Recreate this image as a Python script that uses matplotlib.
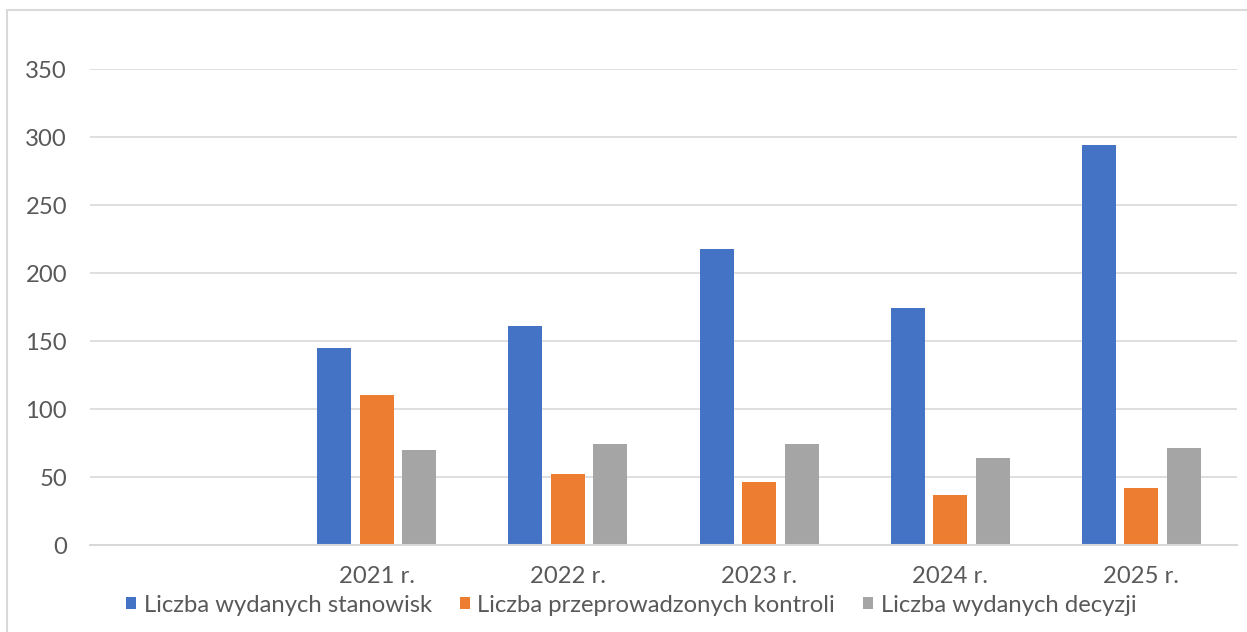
import matplotlib.pyplot as plt
import numpy as np
from matplotlib.patches import Rectangle

# categories (first slot is empty in the original chart)
categories = ["", "2021 r.", "2022 r.", "2023 r.", "2024 r.", "2025 r."]
stanowiska = [0, 145, 161, 218, 174, 294]
kontrole = [0, 110, 52, 46, 37, 42]
decyzje = [0, 70, 74, 74, 64, 71]
series_names = ["Liczba wydanych stanowisk", "Liczba przeprowadzonych kontroli",
                "Liczba wydanych decyzji"]
colors = ["#4472c4", "#ed7d31", "#a5a5a5"]
yticks = [0, 50, 100, 150, 200, 250, 300, 350]

plt.rcParams["font.family"] = ["Lato", "DejaVu Sans"]
fs = 17.2

fig = plt.figure(figsize=(12.47, 6.32), dpi=100)
W, H = 1247, 632
ax = fig.add_axes([90 / W, 1 - 545 / H, (1237 - 90) / W, (545 - 69) / H])

# outer chart border
fig.patches.append(Rectangle((7 / W, -0.05), 1.1, 1 - 10 / H + 0.05,
                             transform=fig.transFigure, fill=False,
                             edgecolor="#d9d9d9", linewidth=1.5))

x = np.arange(len(categories))
bw = 34 / 191
step = 42.5 / 191
bars = []
for i, (vals, name, c) in enumerate(zip([stanowiska, kontrole, decyzje], series_names, colors)):
    xs = x[1:] + (i - 1) * step
    b = ax.bar(xs, vals[1:], width=bw, color=c, label=name, zorder=3)
    bars.append(b)

ax.set_xlim(-0.5, len(categories) - 0.5)
ax.set_ylim(0, 350)
ax.set_yticks(yticks)
ax.set_xticks(x)
ax.set_xticklabels(categories)
ax.yaxis.grid(True, color="#d9d9d9", linewidth=1.2, zorder=0)
ax.set_axisbelow(True)
for s in ["top", "right", "left"]:
    ax.spines[s].set_visible(False)
ax.spines["bottom"].set_color("#d9d9d9")
ax.spines["bottom"].set_linewidth(1.5)
ax.spines["bottom"].set_zorder(4)
ax.tick_params(axis="both", length=0, labelsize=fs, labelcolor="#595959")
ax.tick_params(axis="y", pad=16.5)
ax.tick_params(axis="x", pad=15)

fig.legend(handles=bars, labels=series_names, loc="center left",
           bbox_to_anchor=(126 / W, 1 - 605 / H), ncol=3, frameon=False,
           fontsize=fs, labelcolor="#595959", handlelength=0.42, handleheight=0.42,
           handletextpad=0.33, columnspacing=1.15, borderaxespad=0, borderpad=0)

fig.savefig("out.png", dpi=100, facecolor="white")
